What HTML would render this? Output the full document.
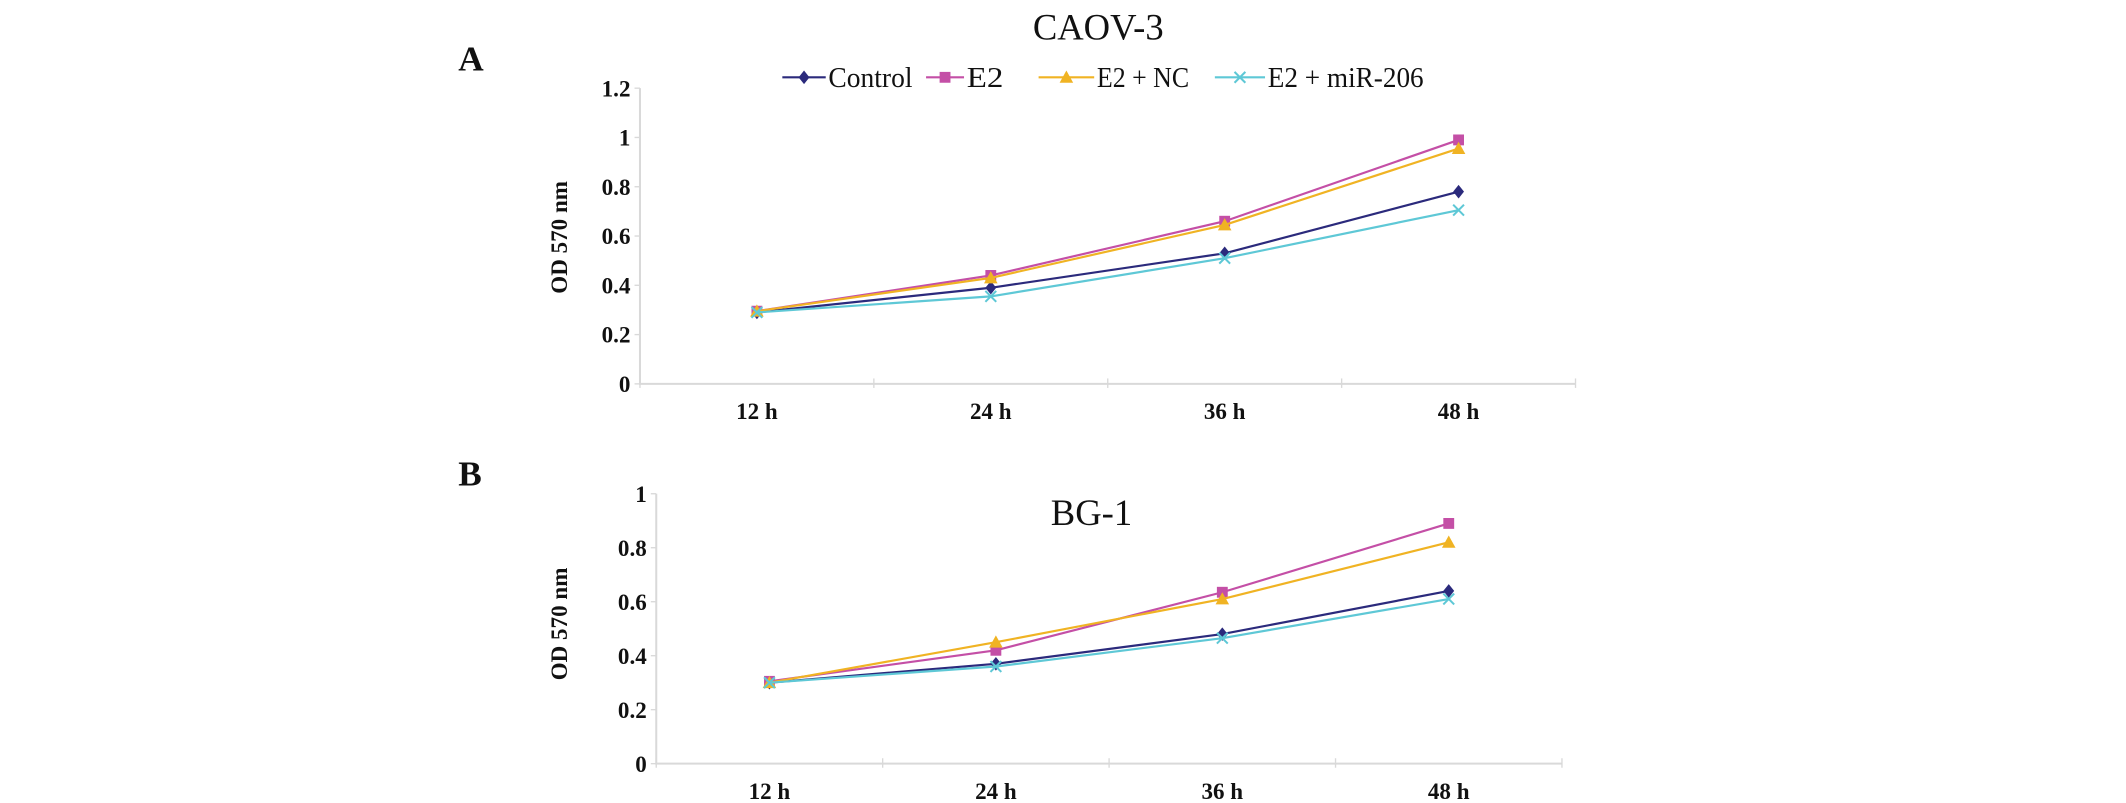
<!DOCTYPE html>
<html><head><meta charset="utf-8"><style>
html,body{margin:0;padding:0;background:#fff;}
svg{display:block;}
text{font-family:"Liberation Serif",serif;}
</style></head><body>
<svg id="fig" width="2126" height="803" viewBox="0 0 1568 592" preserveAspectRatio="none" xmlns="http://www.w3.org/2000/svg"></svg>
<script>
const categories = ["12 h","24 h","36 h","48 h"];
const seriesNames = ["Control","E2","E2 + NC","E2 + miR-206"];
const aControl = [0.29,0.39,0.53,0.78];
const aE2 = [0.295,0.44,0.66,0.99];
const aNC = [0.295,0.43,0.645,0.955];
const aMiR = [0.29,0.355,0.51,0.705];
const bControl = [0.30,0.37,0.48,0.64];
const bE2 = [0.305,0.42,0.635,0.89];
const bNC = [0.30,0.45,0.61,0.82];
const bMiR = [0.30,0.36,0.465,0.61];
const aTicks = ["0","0.2","0.4","0.6","0.8","1","1.2"];
const bTicks = ["0","0.2","0.4","0.6","0.8","1"];

const colors = ["#2b2a7c","#c44fa6","#f0b323","#5ec8d6"];
const markers = ["diamond","square","triangle","x"];
const NS="http://www.w3.org/2000/svg";
const svg=document.getElementById('fig');
function mk(tag,attrs,parent){const e=document.createElementNS(NS,tag);for(const k in attrs)e.setAttribute(k,attrs[k]);(parent||svg).appendChild(e);return e;}
function txt(s,attrs,parent){const e=mk('text',attrs,parent);e.textContent=s;return e;}

function marker(g,type,x,y,c){
  let m;
  if(type==="diamond") m=mk('polygon',{points:`${x},${y-5} ${x+4},${y} ${x},${y+5} ${x-4},${y}`,fill:c},g);
  else if(type==="square") m=mk('rect',{x:x-4,y:y-4,width:8,height:8,fill:c},g);
  else if(type==="triangle") m=mk('polygon',{points:`${x},${y-5} ${x+5},${y+4} ${x-5},${y+4}`,fill:c},g);
  else { m=mk('path',{d:`M${x-4},${y-4}L${x+4},${y+4}M${x+4},${y-4}L${x-4},${y+4}`,stroke:c,'stroke-width':1.5},g); }
  
  
  return m;
}

function panel(opt){
  const {x0,x1,yTop,y0,yMax,ticks,series,prefix}=opt;
  const g=mk('g',{});
  
  
  const ys=v=>y0-(v/yMax)*(y0-yTop);
  const bw=(x1-x0)/categories.length;
  const xs=i=>x0+bw*(i+0.5);
  const ax=mk('path',{d:`M${x0},${yTop}L${x0},${y0}L${x1},${y0}`,stroke:'#d9d9d9','stroke-width':1.5,fill:'none'},g);
  
  
  ticks.forEach(t=>{
    const v=parseFloat(t),y=ys(v);
    mk('line',{x1:x0-4,x2:x0,y1:y,y2:y,stroke:'#d9d9d9','stroke-width':1},g);
    const l=txt(t,{x:x0-7,y:y+6,'text-anchor':'end','font-size':17,'font-weight':'bold',fill:'#111'},g);
    
    
  });
  for(let i=0;i<=categories.length;i++){
    const x=x0+bw*i;
    mk('line',{x1:x,x2:x,y1:y0-4,y2:y0+3,stroke:'#d9d9d9','stroke-width':1},g);
  }
  categories.forEach((c,i)=>{
    const l=txt(c,{x:xs(i),y:y0+26,'text-anchor':'middle','font-size':17,'font-weight':'bold',fill:'#111'},g);
    
    
  });
  series.forEach((vals,si)=>{
    const sg=mk('g',{},g);
    
    
    const pts=vals.map((v,i)=>xs(i)+','+ys(v)).join(' ');
    const pl=mk('polyline',{points:pts,fill:'none',stroke:colors[si],'stroke-width':1.6},sg);
    
    
    vals.forEach((v,i)=>marker(sg,markers[si],xs(i),ys(v),colors[si]));
  });
}

// Panel A
let t=txt('A',{x:338,y:52,'font-size':26,'font-weight':'bold',fill:'#111'});

t=txt('CAOV-3',{x:810,y:29,'text-anchor':'middle','font-size':27,fill:'#111'});

t=txt('OD 570 nm',{x:0,y:0,'text-anchor':'middle','font-size':17,'font-weight':'bold',fill:'#111',transform:'translate(418,175) rotate(-90)'});

// legend
const lg=mk('g',{});


const legPos=[[577,611,62],[683,713,27],[766,809,68],[896,935,115]];
seriesNames.forEach((n,i)=>{
  const e=mk('g',{},lg);
  
  
  const [a,b,w]=legPos[i];
  mk('line',{x1:a,x2:b-2,y1:57,y2:57,stroke:colors[i],'stroke-width':1.6},e);
  marker(e,markers[i],(a+b-2)/2,57,colors[i]);
  txt(n,{x:b,y:64,'font-size':21,fill:'#111',textLength:w,lengthAdjust:'spacingAndGlyphs'},e);
});
panel({x0:472,x1:1162,yTop:65,y0:283,yMax:1.2,ticks:aTicks,series:[aControl,aE2,aNC,aMiR],prefix:'panel-a'});

// Panel B
t=txt('B',{x:338,y:358,'font-size':26,'font-weight':'bold',fill:'#111'});

t=txt('BG-1',{x:805,y:387,'text-anchor':'middle','font-size':27,fill:'#111'});

t=txt('OD 570 nm',{x:0,y:0,'text-anchor':'middle','font-size':17,'font-weight':'bold',fill:'#111',transform:'translate(418,460) rotate(-90)'});

panel({x0:484,x1:1152,yTop:364,y0:563,yMax:1,ticks:bTicks,series:[bControl,bE2,bNC,bMiR],prefix:'panel-b'});
</script>
</body></html>
